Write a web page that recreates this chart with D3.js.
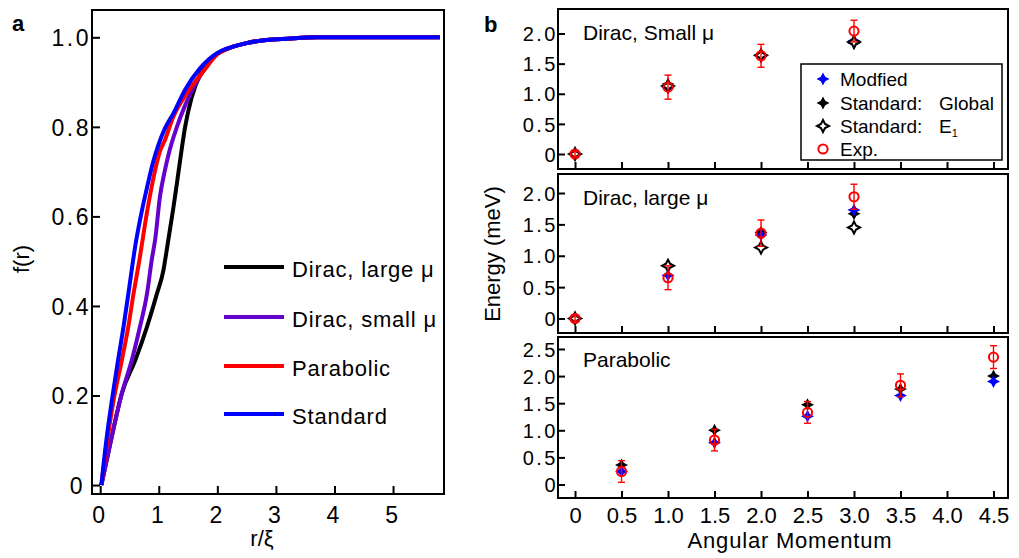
<!DOCTYPE html>
<html><head><meta charset="utf-8">
<script src="https://cdn.jsdelivr.net/npm/d3@7"></script>
<style>
body{margin:0;background:#fff}
svg{display:block}
text{font-family:"Liberation Sans",Arial,Helvetica,sans-serif;fill:#000}
</style>
</head><body>
<svg id="c" width="1019" height="558"></svg>
<script>
// ================= Panel a data =================
const rDiracLarge=[0.02,0.2,0.37,0.6,0.8,0.97,1.08,1.13,1.19,1.25,1.31,1.39,1.45,1.56,1.71,1.85,2.0,2.27,2.5,2.84,3.2,3.7,4.5,5.8];
const fDiracLarge=[0,0.11,0.205,0.279,0.354,0.428,0.48,0.52,0.57,0.62,0.674,0.749,0.8,0.865,0.918,0.945,0.963,0.979,0.987,0.994,0.997,1.0,1.0,1.0];
const rDiracSmall=[0.02,0.2,0.37,0.54,0.68,0.8,0.88,0.94,1.02,1.1,1.17,1.31,1.45,1.6,1.82,2.0,2.27,2.5,2.84,3.2,3.7,4.5,5.8];
const fDiracSmall=[0,0.11,0.205,0.279,0.354,0.428,0.503,0.55,0.644,0.70,0.74,0.80,0.848,0.89,0.935,0.963,0.979,0.987,0.994,0.997,1.0,1.0,1.0];
const rParabolic=[0.02,0.1,0.23,0.37,0.48,0.57,0.67,0.8,0.9,1.02,1.11,1.25,1.48,1.76,2.0,2.27,2.5,2.84,3.2,3.7,4.5,5.8];
const fParabolic=[0,0.08,0.19,0.279,0.354,0.428,0.503,0.61,0.68,0.745,0.772,0.823,0.875,0.924,0.962,0.979,0.987,0.994,0.997,1.0,1.0,1.0];
const rStandard=[0.02,0.1,0.2,0.3,0.4,0.5,0.6,0.7,0.8,0.9,1.0,1.1,1.25,1.45,1.7,2.0,2.27,2.5,2.84,3.2,3.7,4.5,5.8];
const fStandard=[0,0.095,0.19,0.275,0.355,0.445,0.535,0.605,0.665,0.72,0.762,0.795,0.83,0.883,0.93,0.965,0.979,0.987,0.994,0.997,1.0,1.0,1.0];
const aNames=["Dirac, large μ","Dirac, small μ","Parabolic","Standard"];
const aColors=["#000000","#6600cc","#ff0000","#0000ff"];
const aXTicks=[0,1,2,3,4,5];
const aYTicks=[0,0.2,0.4,0.6,0.8,1.0];

// ================= Panel b data =================
const bXTicks=[0,0.5,1,1.5,2,2.5,3,3.5,4,4.5];
const bXLabels=["0","0.5","1.0","1.5","2.0","2.5","3.0","3.5","4.0","4.5"];
const diracL=[0,1,2,3];
const smallExp=[0,1.11,1.63,2.04];
const smallErr=[0.04,0.2,0.19,0.18];
const smallMod=[0,1.10,1.62,1.88];
const smallGlobal=[0,1.16,1.65,1.84];
const smallE1=[0,1.13,1.64,1.86];
const largeExp=[0,0.65,1.36,1.94];
const largeErr=[0.04,0.19,0.21,0.2];
const largeMod=[0,0.69,1.33,1.73];
const largeGlobal=[0,0.85,1.37,1.67];
const largeE1=[0,0.84,1.13,1.45];
const paraL=[0.5,1.5,2.5,3.5,4.5];
const paraExp=[0.24,0.82,1.33,1.83,2.35];
const paraErr=[0.2,0.2,0.2,0.21,0.21];
const paraMod=[0.24,0.77,1.26,1.64,1.90];
const paraGlobal=[0.36,1.0,1.47,1.76,2.0];
const subTitles=["Dirac, Small μ","Dirac, large μ","Parabolic"];
const yTicksDirac=[0,0.5,1,1.5,2];
const yTicksPara=[0,0.5,1,1.5,2,2.5];
const bLegendNames=["Modfied","Standard: ","Standard: ","Exp."];

const svg=d3.select("#c");
const fmtTick=d=>d===0?"0":d3.format(".1f")(d);

// ================= Panel a =================
const xa=d3.scaleLinear().domain([-0.14,5.87]).range([92,444]);
const ya=d3.scaleLinear().domain([-0.02,1.061]).range([494,10]);
const ga=svg.append("g");
const lineA=d3.line().x(d=>xa(d[0])).y(d=>ya(d[1])).curve(d3.curveMonotoneX);
const aR=[rDiracLarge,rDiracSmall,rParabolic,rStandard];
const aF=[fDiracLarge,fDiracSmall,fParabolic,fStandard];
aR.forEach((r,i)=>{
  ga.append("path").datum(d3.zip(r,aF[i])).attr("d",lineA)
    .attr("fill","none").attr("stroke",aColors[i]).attr("stroke-width",4)
    .attr("stroke-linejoin","round").attr("stroke-linecap","butt");
});
ga.append("rect").attr("x",92).attr("y",10).attr("width",352).attr("height",484)
  .attr("fill","none").attr("stroke","#000").attr("stroke-width",2);
const ayG=ga.append("g").attr("transform","translate(92,0)")
  .call(d3.axisLeft(ya).tickValues(aYTicks).tickSize(-8).tickSizeOuter(0).tickFormat(fmtTick));
ayG.select(".domain").remove();
ayG.selectAll(".tick line").attr("stroke-width",2);
ayG.selectAll(".tick text").attr("font-size",23).attr("letter-spacing","2.5px")
  .attr("x",d=>d===0?-7:-1).attr("dy","0.36em");
const axG=ga.append("g").attr("transform","translate(0,494)")
  .call(d3.axisBottom(xa).tickValues(aXTicks).tickSize(-8).tickSizeOuter(0).tickFormat(d3.format("d")));
axG.select(".domain").remove();
axG.selectAll(".tick line").attr("stroke-width",2);
axG.selectAll(".tick text").attr("font-size",23).attr("y",29).attr("dy",0).attr("dx","-2px");
ayG.attr("font-family",null); axG.attr("font-family",null);
svg.append("text").attr("transform","translate(29,259) rotate(-90)").attr("text-anchor","middle")
  .attr("font-size",22).text("f(r)");
svg.append("text").attr("x",262).attr("y",546).attr("text-anchor","middle").attr("font-size",22).text("r/ξ");
svg.append("text").attr("x",12).attr("y",31).attr("font-size",22).attr("font-weight","bold").text("a");
const legYa=[267,317,366,414];
aNames.forEach((n,i)=>{
  ga.append("line").attr("x1",224).attr("x2",284).attr("y1",legYa[i]).attr("y2",legYa[i])
    .attr("stroke",aColors[i]).attr("stroke-width",4);
  ga.append("text").attr("x",292).attr("y",legYa[i]+10).attr("font-size",22)
    .attr("letter-spacing","0.8px").text(n);
});

// ================= Panel b =================
const xb=d3.scaleLinear().domain([-0.183,4.656]).range([558,1008]);
function star(R){const a=R*0.34;return `M0,${-R}L${a},${-a}L${R},0L${a},${a}L0,${R}L${-a},${a}L${-R},0L${-a},${-a}Z`;}
const subs=[
 {top:9,bottom:169,dom:[-0.249,2.407],ticks:yTicksDirac,x:diracL,exp:smallExp,err:smallErr,mod:smallMod,glob:smallGlobal,e1:smallE1,ty:40},
 {top:174,bottom:333,dom:[-0.231,2.303],ticks:yTicksDirac,x:diracL,exp:largeExp,err:largeErr,mod:largeMod,glob:largeGlobal,e1:largeE1,ty:205},
 {top:337,bottom:498,dom:[-0.249,2.721],ticks:yTicksPara,x:paraL,exp:paraExp,err:paraErr,mod:paraMod,glob:paraGlobal,e1:null,ty:367}
];
subs.forEach((s,k)=>{
  const y=d3.scaleLinear().domain(s.dom).range([s.bottom,s.top]);
  const g=svg.append("g");
  g.append("rect").attr("x",558).attr("y",s.top).attr("width",450).attr("height",s.bottom-s.top)
    .attr("fill","none").attr("stroke","#000").attr("stroke-width",2);
  const yG=g.append("g").attr("transform","translate(558,0)")
    .call(d3.axisLeft(y).tickValues(s.ticks).tickSize(-7).tickSizeOuter(0).tickFormat(fmtTick));
  yG.select(".domain").remove();
  yG.selectAll(".tick line").attr("stroke-width",2);
  yG.selectAll(".tick text").attr("font-size",20).attr("letter-spacing","2.5px").attr("x",0).attr("dy","0.36em");
  yG.attr("font-family",null);
  const xG=g.append("g").attr("transform",`translate(0,${s.bottom})`)
    .call(d3.axisBottom(xb).tickValues(bXTicks).tickSize(-7).tickSizeOuter(0)
      .tickFormat((d,i)=>k===2?bXLabels[i]:""));
  xG.select(".domain").remove();
  xG.selectAll(".tick line").attr("stroke-width",2);
  xG.selectAll(".tick text").attr("font-size",22).attr("y",25).attr("dy",0);
  xG.attr("font-family",null);
  g.append("text").attr("x",583).attr("y",s.ty).attr("font-size",21).text(subTitles[k]);
  g.selectAll(".glob").data(d3.zip(s.x,s.glob)).join("path")
    .attr("transform",d=>`translate(${xb(d[0])},${y(d[1])})`).attr("d",star(6.5)).attr("fill","#000");
  g.selectAll(".mod").data(d3.zip(s.x,s.mod)).join("path")
    .attr("transform",d=>`translate(${xb(d[0])},${y(d[1])})`).attr("d",star(6.5)).attr("fill","#0000ff");
  if(s.e1){
    g.selectAll(".e1").data(d3.zip(s.x,s.e1)).join("path")
      .attr("transform",d=>`translate(${xb(d[0])},${y(d[1])})`).attr("d",star(6))
      .attr("fill","#fff").attr("stroke","#000").attr("stroke-width",2);
  }
  const ed=d3.zip(s.x,s.exp,s.err);
  const eg=g.append("g").attr("stroke","#ff0000").attr("stroke-width",1.4);
  ed.forEach(d=>{
    const cx=xb(d[0]),y1=y(d[1]+d[2]),y2=y(d[1]-d[2]);
    eg.append("line").attr("x1",cx).attr("x2",cx).attr("y1",y1).attr("y2",y2);
    eg.append("line").attr("x1",cx-3.5).attr("x2",cx+3.5).attr("y1",y1).attr("y2",y1);
    eg.append("line").attr("x1",cx-3.5).attr("x2",cx+3.5).attr("y1",y2).attr("y2",y2);
  });
  g.selectAll(".exp").data(ed).join("circle")
    .attr("cx",d=>xb(d[0])).attr("cy",d=>y(d[1])).attr("r",4.6)
    .attr("fill","none").attr("stroke","#ff0000").attr("stroke-width",2);
});
svg.append("text").attr("transform","translate(500,254) rotate(-90)").attr("text-anchor","middle")
  .attr("font-size",22).text("Energy (meV)");
svg.append("text").attr("x",790).attr("y",548).attr("text-anchor","middle").attr("font-size",22)
  .attr("letter-spacing","0.8px").text("Angular Momentum");
svg.append("text").attr("x",484).attr("y",32).attr("font-size",22).attr("font-weight","bold").text("b");

const lg=svg.append("g");
lg.append("rect").attr("x",801).attr("y",64).attr("width",201).attr("height",96)
  .attr("fill","#fff").attr("stroke","#000").attr("stroke-width",1.5);
const rowsB=[79,103,126,149];
lg.append("path").attr("transform",`translate(823,${rowsB[0]})`).attr("d",star(6.5)).attr("fill","#0000ff");
lg.append("path").attr("transform",`translate(823,${rowsB[1]})`).attr("d",star(6.5)).attr("fill","#000");
lg.append("path").attr("transform",`translate(823,${rowsB[2]})`).attr("d",star(6))
  .attr("fill","#fff").attr("stroke","#000").attr("stroke-width",2);
lg.append("circle").attr("cx",823).attr("cy",rowsB[3]).attr("r",4.6).attr("fill","none")
  .attr("stroke","#ff0000").attr("stroke-width",2);
bLegendNames.forEach((n,i)=>{
  const t=lg.append("text").attr("x",840).attr("y",rowsB[i]+7).attr("font-size",19).text(n);
  if(i===1) t.append("tspan").attr("x",939).text("Global");
  if(i===2){ t.append("tspan").attr("x",939).text("E");
    t.append("tspan").attr("font-size",11).attr("dy",4).text("1"); }
});
</script>
</body></html>
